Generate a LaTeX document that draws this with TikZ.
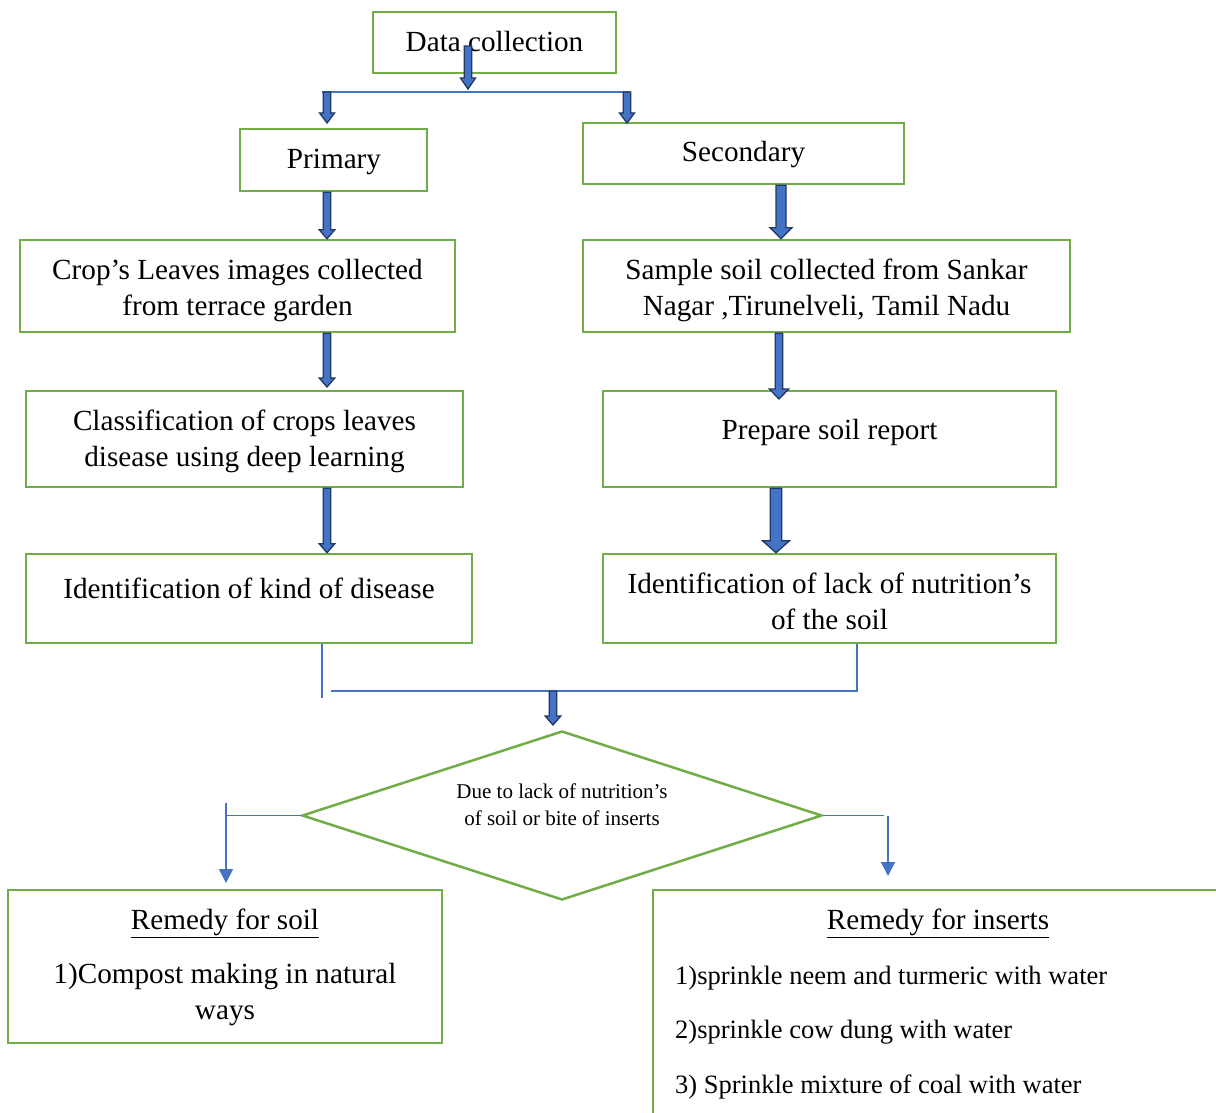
\documentclass[tikz,border=0pt]{standalone}
\usepackage{fontspec}
\setmainfont{Liberation Serif}
\usetikzlibrary{calc,shapes.geometric,arrows.meta}
\definecolor{gbox}{RGB}{112,173,71}
\definecolor{lblue}{RGB}{68,114,196}
\definecolor{dnavy}{RGB}{31,56,100}
\definecolor{afill}{RGB}{68,114,196}
\newcommand{\blockarr}[5]{%
  \draw[blockarrow] let \p1=(#1), \p2=(#2) in
    (\x1-#3pt,\y1) -- (\x1+#3pt,\y1) -- (\x1+#3pt,\y2+#5pt) -- (\x1+#4pt,\y2+#5pt)
    -- (\x1,\y2) -- (\x1-#4pt,\y2+#5pt) -- (\x1-#3pt,\y2+#5pt) -- cycle;}
\begin{document}
\begin{tikzpicture}[x=1pt,y=-1pt,
  box/.style={draw=gbox, line width=2.5pt, rectangle, inner sep=0pt, align=center,
    font=\fontsize{29.2}{36}\selectfont},
  bigtxt/.style={inner sep=0pt, anchor=base, align=center, font=\fontsize{29.2}{36}\selectfont},
  smalltxt/.style={inner sep=0pt, anchor=base, font=\fontsize{21}{27}\selectfont, align=center},
  itemtxt/.style={inner sep=0pt, anchor=base west, font=\fontsize{26.5}{32}\selectfont},
  thinline/.style={draw=lblue, line width=1.6pt},
  thinarrow/.style={draw=lblue, line width=1.6pt, -{Triangle[length=14pt,width=14pt]}},
  blockarrow/.style={draw=dnavy, fill=afill, line width=1.3pt, line join=miter}]
\useasboundingbox (0,0) rectangle (1216,1113);
\fill[white] (0,0) rectangle (1216,1113);
\clip (0,0) rectangle (1216,1113);

% boxes
\node[box, minimum width=243, minimum height=61] (dc) at (494.5,42.5) {};
\node[bigtxt] (dctxt) at (494.5,52) {Data collection};
\node[box, minimum width=187, minimum height=62] (prim) at (333.5,160) {};
\node[bigtxt] (primtxt) at (334,169) {Primary};
\node[box, minimum width=321, minimum height=61] (sec) at (743.5,153.5) {};
\node[bigtxt] (sectxt) at (743.5,162) {Secondary};
\node[box, minimum width=435, minimum height=92] (crop) at (237.5,286) {};
\node[bigtxt] (croptxt) at (237.5,315) {Crop’s Leaves images collected\\from terrace garden};
\node[box, minimum width=487, minimum height=92] (samp) at (826.5,286) {};
\node[bigtxt] (samptxt) at (826.5,315) {Sample soil collected from Sankar\\Nagar ,Tirunelveli, Tamil Nadu};
\node[box, minimum width=437, minimum height=96] (cls) at (244.5,439) {};
\node[bigtxt] (clstxt) at (244.5,466) {Classification of crops leaves\\disease using deep learning};
\node[box, minimum width=453, minimum height=96] (prep) at (829.5,439) {};
\node[bigtxt] (preptxt) at (829.5,439) {Prepare soil report};
\node[box, minimum width=446, minimum height=89] (idk) at (249,598.5) {};
\node[bigtxt] (idktxt) at (249,598) {Identification of kind of disease};
\node[box, minimum width=453, minimum height=89] (idl) at (829.5,598.5) {};
\node[bigtxt] (idltxt) at (829.5,629.5) {Identification of lack of nutrition’s\\of the soil};

% decision
\node[draw=gbox, line width=2.5pt, diamond, inner sep=0pt, minimum width=520, minimum height=169]
  (dec) at (562,815.5) {};
\node[smalltxt] (dectxt) at (562,825) {Due to lack of nutrition’s\\of soil or bite of inserts};

% remedies
\node[box, minimum width=434, minimum height=153] (rs) at (225,966.5) {};
\node[bigtxt] (rst) at (225,929) {\underline{Remedy for soil}};
\node[bigtxt] (rs1) at (225,1019.5) {1)Compost making in natural\\ways};

\node[box, minimum width=587, minimum height=260] (ri) at (946.5,1020) {};
\node[bigtxt] (rit) at (938,929.5) {\underline{Remedy for inserts}};
\node[itemtxt] (ri1) at (675,984) {1)sprinkle neem and turmeric with water};
\node[itemtxt] (ri2) at (675,1038) {2)sprinkle cow dung with water};
\node[itemtxt] (ri3) at (675,1093) {3) Sprinkle mixture of coal with water};

% top bus
\coordinate (busl) at (322,92);
\coordinate (busr) at (630,92);
\draw[thinline] (busl) -- (busr);
\coordinate (a0s) at (468,46);
\coordinate (a0e) at (468,89);
\blockarr{a0s}{a0e}{3.8}{7.5}{11}
\coordinate (a1s) at (327,92);
\coordinate (a1e) at (327,123);
\blockarr{a1s}{a1e}{3.8}{7.5}{10}
\coordinate (a2s) at (627,92);
\coordinate (a2e) at (627,123);
\blockarr{a2s}{a2e}{3.8}{7.5}{10}

% left column
\blockarr{327,0 |- prim.south}{327,0 |- crop.north}{3.7}{7.8}{9}
\coordinate (a4e) at (327,387);
\blockarr{327,0 |- crop.south}{a4e}{3.7}{7.8}{9}
\blockarr{327,0 |- cls.south}{327,0 |- idk.north}{3.7}{7.8}{9}

% right column
\blockarr{781,0 |- sec.south}{781,0 |- samp.north}{5}{11}{11}
\coordinate (a7e) at (779,399);
\blockarr{779,0 |- samp.south}{a7e}{3.7}{9.7}{10}
\blockarr{776,0 |- prep.south}{776,0 |- idl.north}{5.8}{13.5}{12}

% lower bus
\coordinate (lb1) at (322,698);
\coordinate (lb2) at (331,691);
\coordinate (lb3) at (857,691);
\draw[thinline] (322,0 |- idk.south) -- (lb1);
\draw[thinline] (lb2) -- (lb3) -- (857,0 |- idl.south);
\coordinate (a9s) at (553,691);
\coordinate (a9e) at (553,725);
\blockarr{a9s}{a9e}{3.7}{7.8}{9}

% decision outputs
\coordinate (dl1) at (226,0 |- dec.west);
\coordinate (dl0) at (226,803);
\coordinate (dl2) at (226,883);
\draw[thinline] (dec.west) -- (dl1);
\draw[thinarrow] (dl0) -- (dl2);
\coordinate (dr1) at (884,0 |- dec.east);
\coordinate (dr0) at (888,0 |- dec.east);
\coordinate (dr2) at (888,876);
\draw[thinline] (dec.east) -- (dr1);
\draw[thinarrow] (dr0) -- (dr2);
\end{tikzpicture}
\end{document}
